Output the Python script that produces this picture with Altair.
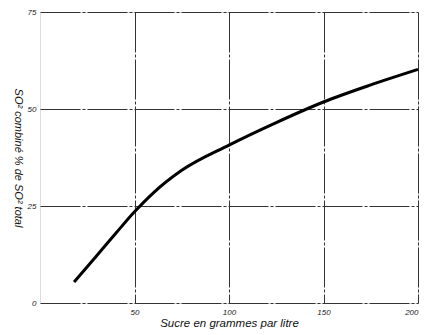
import altair as alt
import pandas as pd

sucre = [18, 30, 40, 50, 60, 75, 100, 125, 150, 175, 200]
so2 = [5.4, 12.2, 17.9, 23.5, 28.4, 34.2, 40.7, 46.5, 51.8, 56.2, 60.2]

x_ticks = [50, 100, 150, 200]
y_ticks = [0, 25, 50, 75]

df = pd.DataFrame({"sucre": sucre, "so2": so2})

FONT = "Liberation Sans"

chart = alt.Chart(df).mark_line(
    color="black", strokeWidth=3, interpolate="monotone"
).encode(
    x=alt.X("sucre:Q", scale=alt.Scale(domain=[0, 200], nice=False),
            axis=alt.Axis(values=x_ticks, title="Sucre en grammes  par litre",
                          grid=True, gridColor="#333", gridWidth=1,
                          gridDash=[40, 2, 3, 2],
                          domain=False, ticks=False, labelPadding=5,
                          labelFont=FONT, labelFontStyle="italic", labelFontSize=8,
                          labelColor="#222",
                          titleFont=FONT, titleFontStyle="italic", titleFontWeight="normal",
                          titleFontSize=11.5, titleColor="#111", titlePadding=1)),
    y=alt.Y("so2:Q", scale=alt.Scale(domain=[0, 75], nice=False),
            axis=alt.Axis(values=y_ticks, title="SO² combiné % de SO² total",
                          grid=True, gridColor="#333", gridWidth=1,
                          gridDash=[40, 2, 3, 2],
                          domain=False, ticks=False, labelPadding=4,
                          labelFont=FONT, labelFontStyle="italic", labelFontSize=8,
                          labelColor="#222",
                          titleAngle=90, titleBaseline="top",
                          titleFont=FONT, titleFontStyle="italic", titleFontWeight="normal",
                          titleFontSize=11, titleColor="#111", titlePadding=4)),
).properties(
    width=378, height=291,
    autosize=alt.AutoSizeParams(type="none"),
    padding={"left": 40, "top": 12, "right": 11, "bottom": 32},
).configure_view(
    stroke="#222", strokeWidth=1.2
).configure(background="white")

chart.save("out.html", embed_options={"renderer": "svg", "actions": False})
